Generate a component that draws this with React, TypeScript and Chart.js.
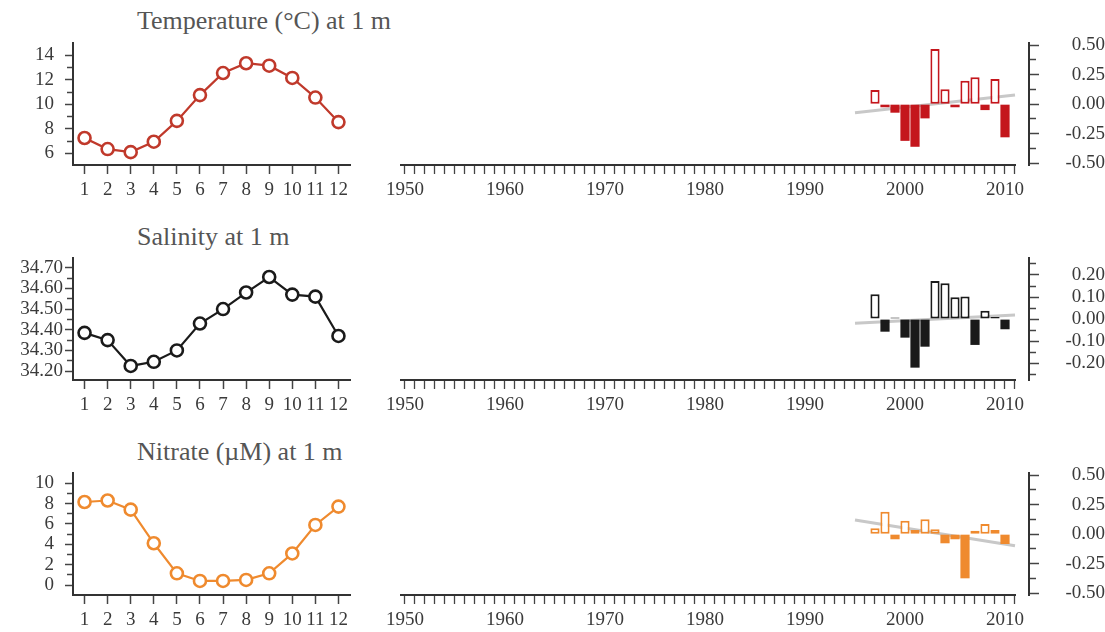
import React, { useEffect, useRef } from "react";
import { Chart, registerables } from "chart.js";

Chart.register(...registerables);

const FONT = "'Liberation Serif', 'Times New Roman', serif";
const TICK_COLOR = "#3a3a3a";
const AXIS_COLOR = "#333333";
const TICK_SIZE = 19;

// ---- Monthly climatology (left panels) ----
const months = [1, 2, 3, 4, 5, 6, 7, 8, 9, 10, 11, 12];
const temperatureMonthly = [7.25, 6.35, 6.1, 6.95, 8.65, 10.75, 12.55, 13.35, 13.15, 12.15, 10.55, 8.55];
const salinityMonthly = [34.385, 34.35, 34.225, 34.245, 34.3, 34.43, 34.5, 34.58, 34.655, 34.57, 34.56, 34.37];
const nitrateMonthly = [8.15, 8.3, 7.4, 4.1, 1.15, 0.4, 0.4, 0.5, 1.15, 3.1, 5.9, 7.7];

// ---- Annual anomalies (right panels) ----
const anomalyYears = [1997, 1998, 1999, 2000, 2001, 2002, 2003, 2004, 2005, 2006, 2007, 2008, 2009, 2010];
const temperatureAnomaly = [0.12, -0.026, -0.072, -0.31, -0.36, -0.12, 0.466, 0.126, -0.026, 0.198, 0.227, -0.05, 0.213, -0.28];
const salinityAnomaly = [0.113, -0.057, 0.007, -0.084, -0.22, -0.125, 0.173, 0.163, 0.099, 0.102, -0.117, 0.038, 0.009, -0.046];
const nitrateAnomaly = [0.05, 0.19, -0.043, 0.114, 0.035, 0.126, 0.041, -0.077, -0.043, -0.373, 0.03, 0.086, 0.035, -0.083];

// ---- Linear trends (grey lines) ----
const trendYears = [1995, 2011];
const temperatureTrend = [-0.072, 0.078];
const salinityTrend = [-0.019, 0.019];
const nitrateTrend = [0.12, -0.097];

// ---- Ticks ----
const monthTickLabels = [1, 2, 3, 4, 5, 6, 7, 8, 9, 10, 11, 12];
const temperatureTicks = [6, 7, 8, 9, 10, 11, 12, 13, 14];
const temperatureTickLabels = [6, 8, 10, 12, 14];
const salinityTicks = [34.2, 34.25, 34.3, 34.35, 34.4, 34.45, 34.5, 34.55, 34.6, 34.65, 34.7];
const salinityTickLabels = [34.2, 34.3, 34.4, 34.5, 34.6, 34.7];
const nitrateTicks = [0, 1, 2, 3, 4, 5, 6, 7, 8, 9, 10];
const nitrateTickLabels = [0, 2, 4, 6, 8, 10];
const anomalyTicksHalf = [-0.5, -0.375, -0.25, -0.125, 0, 0.125, 0.25, 0.375, 0.5];
const anomalyTickLabelsHalf = [-0.5, -0.25, 0, 0.25, 0.5];
const anomalyTicksSal = [-0.25, -0.2, -0.15, -0.1, -0.05, 0, 0.05, 0.1, 0.15, 0.2, 0.25];
const anomalyTickLabelsSal = [-0.2, -0.1, 0, 0.1, 0.2];
const yearTickFirst = 1950;
const yearTickLast = 2011;
const decadeTickLabels = [1950, 1960, 1970, 1980, 1990, 2000, 2010];

const inList = (list: number[], v: number) => list.some((x) => Math.abs(x - v) < 1e-9);

const ROW_TOPS = [43, 258, 473];
const CANVAS_H = 168;
const PAD_TOP = 10;
const PLOT_H = 122;

const zeroPad = (s: any) => {
  s.paddingTop = 0;
  s.paddingBottom = 0;
  s.paddingLeft = 0;
  s.paddingRight = 0;
};

type MonthlyProps = {
  row: number;
  values: number[];
  color: string;
  yMin: number;
  yMax: number;
  ticks: number[];
  labels: number[];
  decimals: number;
  labelPad: number;
};

function MonthlyChart(props: MonthlyProps) {
  const ref = useRef<HTMLCanvasElement | null>(null);
  useEffect(() => {
    if (!ref.current) return;
    const { values, color, yMin, yMax, ticks, labels, decimals, labelPad } = props;
    const chart = new Chart(ref.current, {
      type: "line",
      data: {
        datasets: [
          {
            data: months.map((m, i) => ({ x: m, y: values[i] })),
            borderColor: color,
            borderWidth: 2.2,
            pointRadius: 6,
            pointHoverRadius: 6,
            pointBorderWidth: 2.6,
            pointBackgroundColor: "#ffffff",
            pointBorderColor: color,
            tension: 0,
            clip: false,
          } as any,
        ],
      },
      options: {
        responsive: false,
        animation: false,
        events: [],
        layout: { padding: { top: PAD_TOP, right: 15, left: 0, bottom: 0 } },
        plugins: { legend: { display: false }, tooltip: { enabled: false }, title: { display: false } },
        scales: {
          x: {
            type: "linear",
            min: 0.5,
            max: 12.5,
            afterBuildTicks: (s: any) => {
              s.ticks = monthTickLabels.map((v) => ({ value: v }));
            },
            afterFit: (s: any) => {
              s.height = CANVAS_H - PAD_TOP - PLOT_H;
              zeroPad(s);
            },
            grid: { drawOnChartArea: false, drawTicks: true, tickLength: 9, tickColor: "#444", tickWidth: 1.5 },
            border: { display: true, color: AXIS_COLOR, width: 2 },
            ticks: {
              font: { family: FONT, size: TICK_SIZE },
              color: TICK_COLOR,
              padding: 5,
              autoSkip: false,
              maxRotation: 0,
              callback: (v: any) => String(v),
            },
          },
          y: {
            type: "linear",
            min: yMin,
            max: yMax,
            afterBuildTicks: (s: any) => {
              s.ticks = ticks.map((v) => ({ value: v }));
            },
            afterFit: (s: any) => {
              s.width = 73;
              zeroPad(s);
            },
            grid: {
              drawOnChartArea: false,
              drawTicks: true,
              tickLength: 8,
              tickColor: "#444",
              tickWidth: 1.5,
              tickBorderDash: (ctx: any) => (ctx.tick && inList(labels, ctx.tick.value) ? [] : [5, 100]),
              tickBorderDashOffset: (ctx: any) => (ctx.tick && inList(labels, ctx.tick.value) ? 0 : 103),
            },
            border: { display: true, color: AXIS_COLOR, width: 2 },
            ticks: {
              font: { family: FONT, size: TICK_SIZE },
              color: TICK_COLOR,
              padding: labelPad,
              autoSkip: false,
              callback: (v: any) => (inList(labels, Number(v)) ? Number(v).toFixed(decimals) : ""),
            },
          },
        },
      } as any,
    });
    return () => chart.destroy();
  }, []);
  const top = ROW_TOPS[props.row] - PAD_TOP;
  return (
    <canvas
      ref={ref}
      width={365}
      height={CANVAS_H}
      style={{ position: "absolute", left: 0, top, width: 365, height: CANVAS_H }}
    />
  );
}

type AnomalyProps = {
  row: number;
  values: number[];
  trend: number[];
  color: string;
  yMin: number;
  yMax: number;
  ticks: number[];
  labels: number[];
};

const xAxisLinePlugin = {
  id: "xAxisLine",
  afterDraw(chart: any) {
    const { ctx, chartArea, scales } = chart;
    const xEnd = scales.x.getPixelForValue(yearTickLast);
    ctx.save();
    ctx.strokeStyle = AXIS_COLOR;
    ctx.lineWidth = 2;
    ctx.beginPath();
    ctx.moveTo(chartArea.left, chartArea.bottom);
    ctx.lineTo(xEnd + 1, chartArea.bottom);
    ctx.stroke();
    ctx.restore();
  },
};

function AnomalyChart(props: AnomalyProps) {
  const ref = useRef<HTMLCanvasElement | null>(null);
  useEffect(() => {
    if (!ref.current) return;
    const { values, trend, color, yMin, yMax, ticks, labels } = props;
    const yearTicks: number[] = [];
    for (let y = yearTickFirst; y <= yearTickLast; y++) yearTicks.push(y);
    const chart = new Chart(ref.current, {
      type: "bar",
      data: {
        datasets: [
          {
            type: "bar",
            data: anomalyYears.map((yr, i) => ({ x: yr, y: values[i] })),
            backgroundColor: values.map((v) => (v >= 0 ? "#ffffff" : color)),
            borderColor: color,
            borderWidth: values.map((v) => (v >= 0 ? 2 : 0)),
            borderSkipped: false,
            barPercentage: 0.92,
            categoryPercentage: 1,
            order: 1,
          } as any,
          {
            type: "line",
            data: trendYears.map((yr, i) => ({ x: yr, y: trend[i] })),
            borderColor: "#c8c8c8",
            borderWidth: 3,
            pointRadius: 0,
            order: 2,
          } as any,
        ],
      },
      options: {
        responsive: false,
        animation: false,
        events: [],
        layout: { padding: { top: PAD_TOP, right: 0, left: 20, bottom: 0 } },
        plugins: { legend: { display: false }, tooltip: { enabled: false }, title: { display: false } },
        scales: {
          x: {
            type: "linear",
            offset: false,
            min: 1949.5,
            max: 2012.4,
            afterBuildTicks: (s: any) => {
              s.ticks = yearTicks.map((v) => ({ value: v }));
            },
            afterFit: (s: any) => {
              s.height = CANVAS_H - PAD_TOP - PLOT_H;
              zeroPad(s);
            },
            grid: { offset: false, drawOnChartArea: false, drawTicks: true, tickLength: 9, tickColor: "#444", tickWidth: 1.3 },
            border: { display: false },
            ticks: {
              font: { family: FONT, size: TICK_SIZE },
              color: TICK_COLOR,
              padding: 5,
              autoSkip: false,
              maxRotation: 0,
              callback: (v: any) => (inList(decadeTickLabels, Number(v)) ? String(v) : ""),
            },
          },
          y: {
            type: "linear",
            position: "right",
            min: yMin,
            max: yMax,
            afterBuildTicks: (s: any) => {
              s.ticks = ticks.map((v) => ({ value: v }));
            },
            afterFit: (s: any) => {
              s.width = 76;
              zeroPad(s);
            },
            grid: {
              drawOnChartArea: false,
              drawTicks: true,
              tickLength: 10,
              tickColor: "#444",
              tickWidth: 1.5,
              tickBorderDash: (ctx: any) => (ctx.tick && inList(labels, ctx.tick.value) ? [] : [6, 100]),
            },
            border: { display: true, color: AXIS_COLOR, width: 2 },
            ticks: {
              font: { family: FONT, size: TICK_SIZE },
              color: TICK_COLOR,
              padding: 9,
              crossAlign: "far",
              autoSkip: false,
              callback: (v: any) => (inList(labels, Number(v)) ? Number(v).toFixed(2) : ""),
            },
          },
        },
      } as any,
      plugins: [xAxisLinePlugin],
    });
    return () => chart.destroy();
  }, []);
  const top = ROW_TOPS[props.row] - PAD_TOP;
  return (
    <canvas
      ref={ref}
      width={725}
      height={CANVAS_H}
      style={{ position: "absolute", left: 380, top, width: 725, height: CANVAS_H }}
    />
  );
}

const titleStyle = (top: number): React.CSSProperties => ({
  position: "absolute",
  left: 137,
  top,
  fontFamily: FONT,
  fontSize: 26,
  lineHeight: "26px",
  color: "#555555",
  whiteSpace: "nowrap",
});

export default function App() {
  const red = "#c0392b";
  const redBar = "#c4161c";
  const black = "#1a1a1a";
  const orange = "#ef8a2e";
  return (
    <div
      style={{
        position: "absolute",
        left: 0,
        top: 0,
        width: 1105,
        height: 632,
        background: "#ffffff",
        overflow: "hidden",
      }}
    >
      <div style={titleStyle(8)}>Temperature (°C) at 1 m</div>
      <div style={titleStyle(224)}>Salinity at 1 m</div>
      <div style={titleStyle(439)}>Nitrate (µM) at 1 m</div>

      <MonthlyChart row={0} values={temperatureMonthly} color={red} yMin={5.05} yMax={15}
        ticks={temperatureTicks} labels={temperatureTickLabels} decimals={0} labelPad={11} />
      <MonthlyChart row={1} values={salinityMonthly} color={black} yMin={34.157} yMax={34.747}
        ticks={salinityTicks} labels={salinityTickLabels} decimals={2} labelPad={2} />
      <MonthlyChart row={2} values={nitrateMonthly} color={orange} yMin={-0.98} yMax={11}
        ticks={nitrateTicks} labels={nitrateTickLabels} decimals={0} labelPad={11} />

      <AnomalyChart row={0} values={temperatureAnomaly} trend={temperatureTrend} color={redBar}
        yMin={-0.514} yMax={0.517} ticks={anomalyTicksHalf} labels={anomalyTickLabelsHalf} />
      <AnomalyChart row={1} values={salinityAnomaly} trend={salinityTrend} color={black}
        yMin={-0.276} yMax={0.277} ticks={anomalyTicksSal} labels={anomalyTickLabelsSal} />
      <AnomalyChart row={2} values={nitrateAnomaly} trend={nitrateTrend} color={orange}
        yMin={-0.514} yMax={0.517} ticks={anomalyTicksHalf} labels={anomalyTickLabelsHalf} />
    </div>
  );
}
